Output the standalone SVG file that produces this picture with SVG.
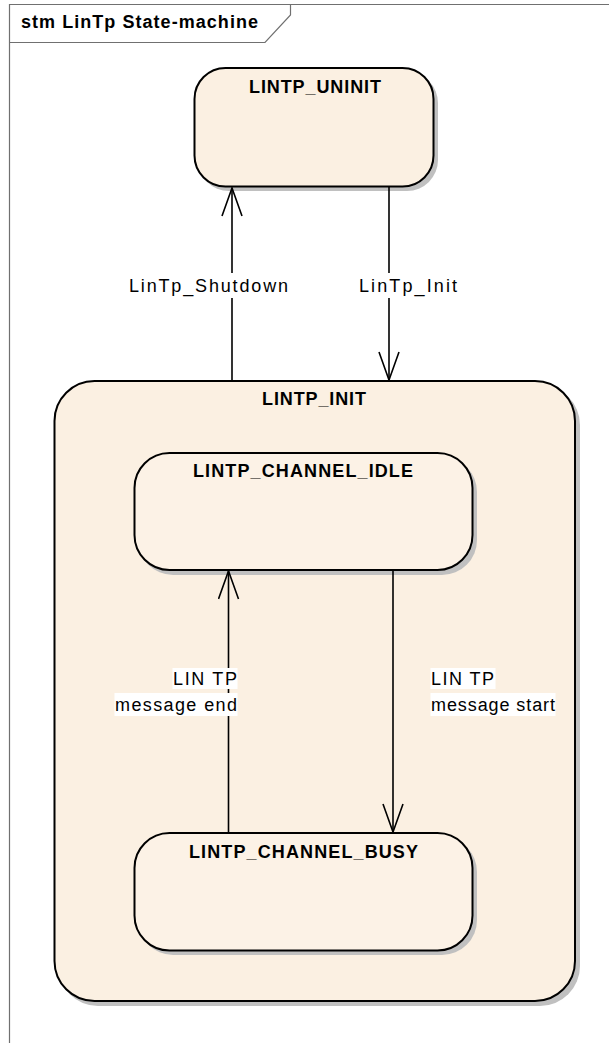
<svg xmlns="http://www.w3.org/2000/svg" width="609" height="1043" viewBox="0 0 609 1043">
<style>
.frame{fill:none;stroke:#707070;stroke-width:1.2}
.state{fill:#FBF0E2;stroke:#000;stroke-width:2}
.inner{fill:#FCF2E6;stroke:#000;stroke-width:2}
.shadow{fill:#C0C0C0;stroke:none}
.title{font-family:"Liberation Sans",Arial,sans-serif;font-weight:bold;font-size:18px;fill:#000}
.lbl{font-family:"Liberation Sans",Arial,sans-serif;font-size:18px;fill:#000}
.bg{fill:#fff}
.edge{fill:none;stroke:#000;stroke-width:1.6}
</style>
<defs>
<marker id="open" viewBox="0 0 30 22" refX="29" refY="11" markerWidth="30" markerHeight="22" markerUnits="userSpaceOnUse" orient="auto">
<path d="M1,1 L29,11 L1,21" fill="none" stroke="#000" stroke-width="1.6"/>
</marker>
</defs>
<rect width="609" height="1043" fill="#fff"/>
<g id="frame">
<path class="frame" d="M9.5,1043 V4.5 H609"/>
<path class="frame" d="M9.5,42.5 H265 L290.5,15 V4.5"/>
<text class="title" x="21" y="28" textLength="237" lengthAdjust="spacing">stm LinTp State-machine</text>
</g>
<g id="LINTP_UNINIT">
<rect class="shadow" x="198" y="72" width="240" height="119" rx="31"/>
<rect class="state" x="194.5" y="68" width="239" height="118.5" rx="31"/>
<text class="title" x="249" y="93" textLength="132" lengthAdjust="spacing">LINTP_UNINIT</text>
</g>
<g id="LINTP_INIT">
<rect class="shadow" x="58" y="385" width="522" height="621" rx="40"/>
<rect class="state" x="54.5" y="381" width="520.5" height="620" rx="40"/>
<text class="title" x="262" y="405" textLength="104" lengthAdjust="spacing">LINTP_INIT</text>
</g>
<g id="LINTP_CHANNEL_IDLE">
<rect class="shadow" x="138" y="457" width="339" height="118" rx="35"/>
<rect class="inner" x="134.5" y="453" width="338" height="117" rx="35"/>
<text class="title" x="193" y="477" textLength="220" lengthAdjust="spacing">LINTP_CHANNEL_IDLE</text>
</g>
<g id="LINTP_CHANNEL_BUSY">
<rect class="shadow" x="138" y="837" width="339" height="118" rx="35"/>
<rect class="inner" x="134.5" y="833" width="338" height="117.5" rx="35"/>
<text class="title" x="189" y="858" textLength="229" lengthAdjust="spacing">LINTP_CHANNEL_BUSY</text>
</g>
<g id="connectors">
<line class="edge" x1="232" y1="381" x2="232" y2="188" marker-end="url(#open)"/>
<line class="edge" x1="389" y1="187" x2="389" y2="380" marker-end="url(#open)"/>
<line class="edge" x1="228.5" y1="833" x2="228.5" y2="571" marker-end="url(#open)"/>
<line class="edge" x1="393" y1="571" x2="393" y2="832" marker-end="url(#open)"/>
<g id="label-shutdown">
<rect class="bg" x="128" y="273" width="162" height="25"/>
<text class="lbl" x="129" y="292" textLength="159" lengthAdjust="spacing">LinTp_Shutdown</text>
</g>
<g id="label-init">
<rect class="bg" x="358" y="273" width="101" height="25"/>
<text class="lbl" x="359" y="292" textLength="98" lengthAdjust="spacing">LinTp_Init</text>
</g>
<g id="label-end">
<rect class="bg" x="172.5" y="668" width="65" height="21"/>
<rect class="bg" x="114.5" y="693" width="123" height="23"/>
<text class="lbl" x="173" y="685" textLength="64" lengthAdjust="spacing">LIN TP</text>
<text class="lbl" x="115" y="710.5" textLength="122" lengthAdjust="spacing">message end</text>
</g>
<g id="label-start">
<rect class="bg" x="430.5" y="668" width="65" height="21"/>
<rect class="bg" x="430.5" y="693" width="125" height="23"/>
<text class="lbl" x="431" y="685" textLength="63" lengthAdjust="spacing">LIN TP</text>
<text class="lbl" x="431" y="710.5" textLength="124" lengthAdjust="spacing">message start</text>
</g>
</g>
</svg>
